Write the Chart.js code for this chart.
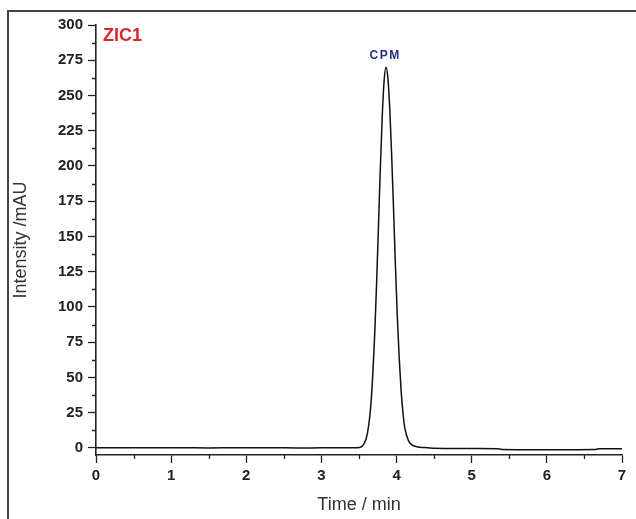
<!DOCTYPE html>
<html>
<head>
<meta charset="utf-8">
<script src="https://cdn.jsdelivr.net/npm/chart.js@4"></script>
<style>
  html, body { margin: 0; padding: 0; background: #fff; }
  #wrap { width: 636px; height: 519px; }
</style>
</head>
<body>
<div id="wrap"><canvas id="chromChart" width="636" height="519"></canvas></div>
<script>
// chromatogram trace
const times = [
  0, 0.3, 0.6, 0.9, 1.2, 1.5, 1.8, 2.1, 2.4, 2.7, 3.0, 3.2, 3.4,
  3.51, 3.56, 3.61, 3.66, 3.71, 3.735, 3.76, 3.785, 3.81, 3.835, 3.86,
  3.885, 3.91, 3.935, 3.96, 3.985, 4.01, 4.035, 4.06, 4.085, 4.11,
  4.16, 4.21, 4.26, 4.31, 4.41, 4.5, 4.8, 5.1, 5.35, 5.4, 5.7, 6.0, 6.3, 6.65, 6.7, 7.0
];
const intensity = [
  0.1, 0.2, 0.1, 0.2, 0.1, 0.0, 0.1, 0.2, 0.1, 0.0, 0.1, 0.1, 0.1,
  0.4, 2.3, 9.8, 32, 82, 118, 159, 200, 236, 261, 270,
  262, 240, 207, 169, 129, 93, 64, 41, 25, 14,
  5, 2, 1, 0.5, 0.2, -0.2, -0.4, -0.4, -0.5, -1.1, -1.2, -1.2, -1.2, -1.1, -0.5, -0.5
];

const xTicks = [0, 1, 2, 3, 4, 5, 6, 7];
const xMinorTicks = [0.5, 1.5, 2.5, 3.5, 4.5, 5.5, 6.5];
const yTicks = [0, 25, 50, 75, 100, 125, 150, 175, 200, 225, 250, 275, 300];
const yMinorTicks = [12.5, 37.5, 62.5, 87.5, 112.5, 137.5, 162.5, 187.5, 212.5, 237.5, 262.5, 287.5];

const sampleName = 'ZIC1';
const peakName = 'CPM';
const peakTime = 3.86;
const peakHeight = 270;

const axisColor = '#222';
const tickFont = { family: 'Liberation Sans, Arial, sans-serif', size: 15, weight: 'bold' };
const titleFont = { family: 'Liberation Sans, Arial, sans-serif', size: 18, weight: 'normal' };

// thin frame round the figure
const framePlugin = {
  id: 'frame',
  beforeDraw(chart) {
    const c = chart.ctx;
    c.save();
    c.strokeStyle = '#444';
    c.lineWidth = 2;
    c.beginPath();
    c.moveTo(8, 519);
    c.lineTo(8, 11);
    c.lineTo(636, 11);
    c.stroke();
    c.restore();
  }
};

// short minor ticks between the labelled ones
const minorTickPlugin = {
  id: 'minorTicks',
  afterDraw(chart) {
    const c = chart.ctx;
    const xs = chart.scales.x;
    const ys = chart.scales.y;
    const area = chart.chartArea;
    c.save();
    c.strokeStyle = axisColor;
    c.lineWidth = 1.3;
    c.beginPath();
    xMinorTicks.forEach(v => {
      const px = Math.round(xs.getPixelForValue(v)) + 0.5;
      c.moveTo(px, area.bottom);
      c.lineTo(px, area.bottom + 4);
    });
    yMinorTicks.forEach(v => {
      const py = Math.round(ys.getPixelForValue(v)) + 0.5;
      c.moveTo(area.left, py);
      c.lineTo(area.left - 4, py);
    });
    c.stroke();
    c.restore();
  }
};

const labelPlugin = {
  id: 'peakLabels',
  afterDatasetsDraw(chart) {
    const c = chart.ctx;
    const area = chart.chartArea;
    const xs = chart.scales.x;
    const ys = chart.scales.y;
    c.save();
    c.textBaseline = 'alphabetic';

    c.fillStyle = '#d9272b';
    c.font = 'bold 18px "Liberation Sans", Arial, sans-serif';
    c.textAlign = 'left';
    c.fillText(sampleName, area.left + 7, area.top + 16);

    c.fillStyle = '#25307a';
    c.font = 'bold 12px "Liberation Sans", Arial, sans-serif';
    c.textAlign = 'center';
    c.letterSpacing = '1.5px';
    c.fillText(peakName, xs.getPixelForValue(peakTime) - 1, ys.getPixelForValue(peakHeight) - 8);
    c.restore();
  }
};

const points = times.map((t, i) => ({ x: t, y: intensity[i] }));

new Chart(document.getElementById('chromChart'), {
  type: 'line',
  data: {
    datasets: [{
      label: sampleName,
      data: points,
      borderColor: '#111',
      borderWidth: 1.5,
      pointRadius: 0,
      fill: false,
      cubicInterpolationMode: 'monotone'
    }]
  },
  options: {
    responsive: false,
    animation: false,
    devicePixelRatio: 1,
    layout: { padding: { left: 0, top: 25, right: 14, bottom: 0 } },
    plugins: {
      legend: { display: false },
      tooltip: { enabled: false }
    },
    scales: {
      x: {
        type: 'linear',
        min: 0,
        max: 7,
        afterFit(scale) { scale.height = 64; },
        afterBuildTicks(scale) { scale.ticks = xTicks.map(v => ({ value: v })); },
        grid: { drawOnChartArea: false, drawTicks: true, tickLength: 8, tickWidth: 1.3, color: axisColor },
        border: { display: true, color: axisColor, width: 1.6 },
        ticks: { color: axisColor, font: tickFont, padding: 4, maxRotation: 0 },
        title: { display: true, text: 'Time / min', color: '#333', font: titleFont, padding: { top: 0, bottom: 3 } }
      },
      y: {
        type: 'linear',
        min: -5,
        max: 300,
        afterFit(scale) { scale.width = 96; },
        afterBuildTicks(scale) { scale.ticks = yTicks.map(v => ({ value: v })); },
        grid: { drawOnChartArea: false, drawTicks: true, tickLength: 8, tickWidth: 1.3, color: axisColor },
        border: { display: true, color: axisColor, width: 1.6 },
        ticks: { color: axisColor, font: tickFont, padding: 5 },
        title: { display: true, text: 'Intensity /mAU', color: '#333', font: titleFont, padding: { top: 10, bottom: 0 } }
      }
    }
  },
  plugins: [framePlugin, minorTickPlugin, labelPlugin]
});
</script>
</body>
</html>
